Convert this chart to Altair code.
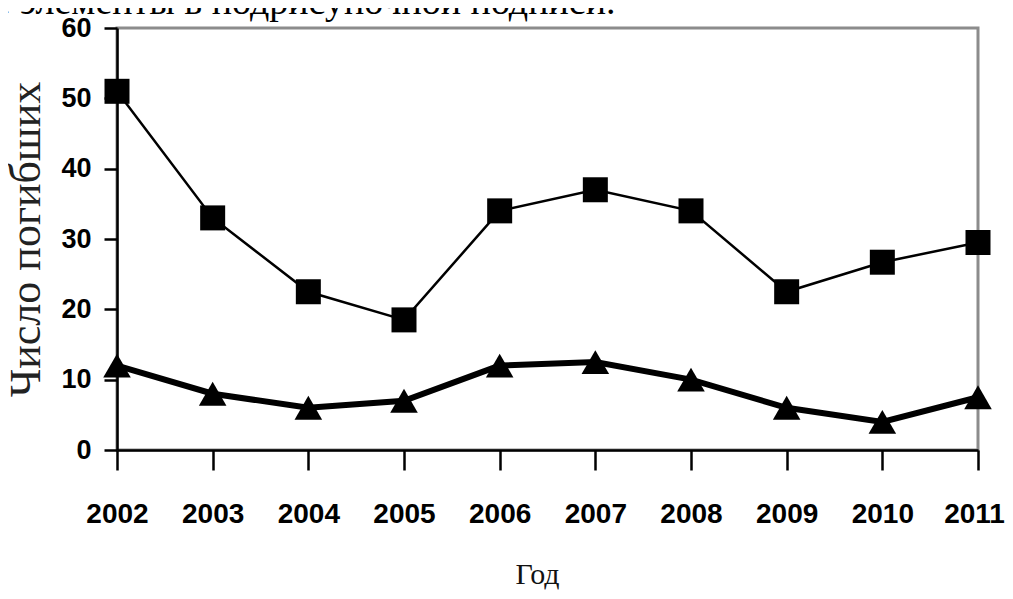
import altair as alt
import pandas as pd

years = [2002, 2003, 2004, 2005, 2006, 2007, 2008, 2009, 2010, 2011]
squares = [51, 33, 22.5, 18.5, 34, 37, 34, 22.5, 26.7, 29.5]
triangles = [12, 8, 6, 7, 12, 12.5, 10, 6, 4, 7.5]
y_ticks = [0, 10, 20, 30, 40, 50, 60]
caption = "ые элементы в подрисуночной подписи."
y_title = "Число погибших"
x_title = "Год"

df_sq = pd.DataFrame({"year": years, "value": squares})
df_tr = pd.DataFrame({"year": years, "value": triangles})

label_font = "Liberation Sans, Arial, sans-serif"
serif = "Liberation Serif, Times New Roman, serif"

x_enc = alt.X(
    "year:Q",
    scale=alt.Scale(domain=[2002, 2011], nice=False, zero=False),
    axis=alt.Axis(
        values=years, format="d", title=x_title,
        titleFont=serif, titleFontSize=30, titleFontWeight="normal", titleColor="#111",
        titleX=420, titleY=133, titleBaseline="alphabetic", titleAlign="center",
        labelFont=label_font, labelFontSize=28, labelFontWeight="bold", labelColor="#000",
        labelPadding=30, tickSize=20, tickWidth=2.5, tickColor="#000",
        labelOffset={"condition": {"test": "datum.value == 2011", "value": -4}, "value": 0},
        domainColor="#000", domainWidth=2.5, grid=False, labelFlush=False,
    ),
)
y_enc = alt.Y(
    "value:Q",
    scale=alt.Scale(domain=[0, 60], nice=False),
    axis=alt.Axis(
        values=y_ticks, title=y_title,
        titleFont=serif, titleFontSize=44, titleFontWeight="normal", titleColor="#222",
        titleX=-91, titleY=211, titleAngle=270, titleAlign="center", titleBaseline="middle",
        labelFont=label_font, labelFontSize=27, labelFontWeight="bold", labelColor="#000",
        labelPadding=13, tickSize=13, tickWidth=2.5, tickColor="#000",
        domainColor="#000", domainWidth=2.5, grid=False,
    ),
)

sq_line = alt.Chart(df_sq).mark_line(color="black", strokeWidth=2.5, clip=False).encode(x=x_enc, y=y_enc)
sq_pts = alt.Chart(df_sq).mark_point(shape="square", filled=True, color="black", size=625, opacity=1, clip=False).encode(x=x_enc, y=y_enc)
tr_line = alt.Chart(df_tr).mark_line(color="black", strokeWidth=6, clip=False).encode(x=x_enc, y=y_enc)
tr_pts = alt.Chart(df_tr).mark_point(shape="triangle-up", filled=True, color="black", size=760, opacity=1, clip=False).encode(x=x_enc, y=y_enc)

cap = alt.Chart(pd.DataFrame({"t": [caption]})).mark_text(
    align="left", baseline="alphabetic", font=serif, fontSize=38, color="#000"
).encode(x=alt.value(-149), y=alt.value(-14), text="t:N")

chart = alt.layer(tr_line, tr_pts, sq_line, sq_pts, cap).properties(
    width=861, height=422,
    autosize=alt.AutoSizeParams(type="none"),
    padding={"left": 109, "top": 20, "right": 27, "bottom": 140},
    background="white",
).configure_view(stroke="#8c8c8c", strokeWidth=3)

chart.save("out.html", embed_options={"renderer": "svg", "actions": False})
